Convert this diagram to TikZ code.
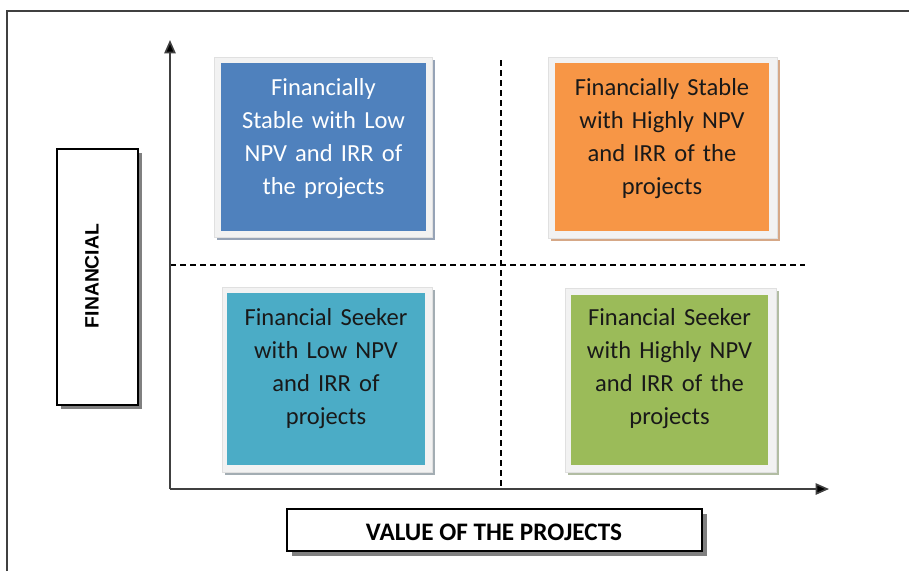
\documentclass[tikz,border=0pt]{standalone}
\usepackage{fontspec}
\setmainfont{Carlito}
\newfontfamily\arialfont{Liberation Sans}
\usetikzlibrary{arrows.meta}
\definecolor{cblue}{HTML}{4F81BD}
\definecolor{corange}{HTML}{F79646}
\definecolor{cteal}{HTML}{4BACC6}
\definecolor{cgreen}{HTML}{9BBB59}
\definecolor{sblue}{HTML}{96A3B6}
\definecolor{sorange}{HTML}{D6A887}
\definecolor{steal}{HTML}{A3ADB3}
\definecolor{sgreen}{HTML}{B2BDA3}
\definecolor{framegray}{HTML}{F2F2F2}
\definecolor{axisgray}{HTML}{404040}
\tikzset{
  quadtext/.style={font=\fontsize{18.4}{24.75}\selectfont, align=center, inner sep=0pt},
  framerect/.style={fill=framegray, draw=black!12, line width=0.4pt},
  labelbox/.style={draw=black, fill=white, line width=1.1pt},
  labelshadow/.style={fill=black!50, draw=none},
  axisline/.style={draw=axisgray, line width=1.2pt, -{Triangle[length=10pt,width=8.5pt,fill=black]}},
  divider/.style={draw=black, line width=0.8pt, dash pattern=on 4.5pt off 3pt},
}
\begin{document}
\begin{tikzpicture}[x=0.75pt,y=-0.75pt]
\useasboundingbox (0,0) rectangle (909,571);
% outer frame
\draw[axisgray, line width=1.4pt] (7,571) -- (7,11) -- (909,11);

% box 1 (blue)
\fill[sblue] (217,60) rectangle (435,240);
\filldraw[framerect] (214,57) rectangle (432,237);
\fill[cblue] (221,63) rectangle (426,231);
\node[quadtext, text=white, text width=200] (q1) at (323.5,138.5) {Financially\\Stable with Low\\NPV and IRR of\\the projects};
% box 2 (orange)
\fill[sorange] (551,60) rectangle (780,241);
\filldraw[framerect] (548,57) rectangle (777,238);
\fill[corange] (555,63) rectangle (769,231);
\node[quadtext, text=black!90, text width=210] (q2) at (662,138.5) {Financially Stable\\with Highly NPV\\and IRR of the\\projects};
% box 3 (teal)
\fill[steal] (225,290) rectangle (435,475);
\filldraw[framerect] (222,287) rectangle (432,472);
\fill[cteal] (227,293) rectangle (425,465);
\node[quadtext, text=black!90, text width=195] (q3) at (326,368.5) {Financial Seeker\\with Low NPV\\and IRR of\\projects};
% box 4 (green)
\fill[sgreen] (568,291) rectangle (779,475);
\filldraw[framerect] (565,288) rectangle (776,472);
\fill[cgreen] (571,295) rectangle (768,465);
\node[quadtext, text=black!90, text width=195] (q4) at (669.5,368.5) {Financial Seeker\\with Highly NPV\\and IRR of the\\projects};

% dividers
\coordinate (vtop) at (501,60);
\coordinate (vbot) at (501,489);
\coordinate (hleft) at (170,265);
\coordinate (hright) at (805,265);
\draw[divider] (vtop) -- (vbot);
\draw[divider] (hleft) -- (hright);

% axes
\coordinate (origin) at (170,489);
\coordinate (ytip) at (170,40);
\coordinate (xtip) at (829,489);
\draw[axisline] (origin) -- (ytip);
\draw[axisline] (origin) -- (xtip);

% axis label boxes
\fill[labelshadow] (61,153) rectangle (142,409);
\filldraw[labelbox] (57,149) rectangle (138,405);
\node[rotate=90, font=\arialfont\bfseries\fontsize{14.5}{17}\selectfont, inner sep=0pt] (ylab) at (92,276) {FINANCIAL};
\fill[labelshadow] (292,514) rectangle (707,556);
\filldraw[labelbox] (287,509) rectangle (702,551);
\node[font=\bfseries\fontsize{18.9}{22}\selectfont, inner sep=0pt] (xlab) at (494,532) {VALUE OF THE PROJECTS};
\end{tikzpicture}
\end{document}
